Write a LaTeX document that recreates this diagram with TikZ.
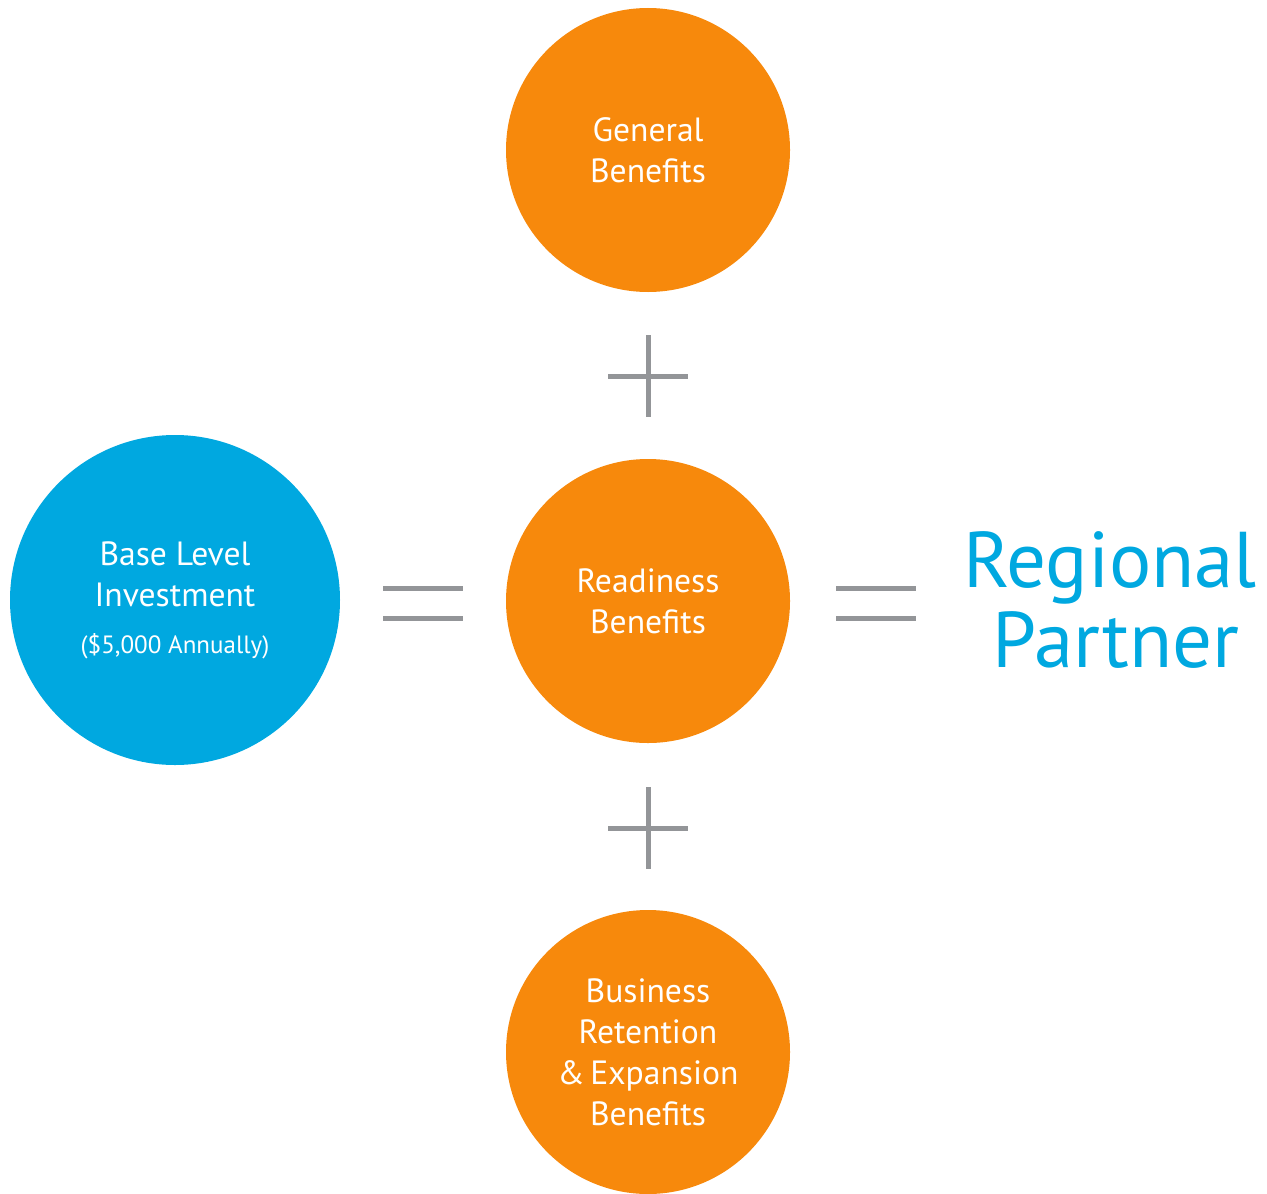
\documentclass[tikz,border=0pt]{standalone}
\usepackage{fontspec}
\setmainfont{PT Sans}
\definecolor{orng}{HTML}{F7890C}
\definecolor{blu}{HTML}{00A8E0}
\definecolor{gry}{HTML}{939598}
\begin{document}
\begin{tikzpicture}[x=0.5pt,y=-0.5pt,
  orb/.style={circle,fill=orng,draw=none,minimum size=142pt,inner sep=0pt,text=white,align=center,font=\fontsize{16.8}{20.5}\selectfont},
  bluorb/.style={circle,fill=blu,draw=none,minimum size=165pt,inner sep=0pt,text=white,align=center,font=\fontsize{16.8}{20.5}\selectfont},
  op/.style={gry,line width=2.5pt}]
\useasboundingbox (0,0) rectangle (1267,1193);
\node[orb] (gen) at (648,150) {General\\Benefits};
\node[orb] (rdy) at (648,601) {Readiness\\Benefits};
\node[orb] (bre) at (648,1052) {Business\\Retention\\\&\,Expansion\\Benefits};
\node[bluorb] (base) at (175,600) {Base Level\\Investment\\[3pt]{\fontsize{12.5}{14}\selectfont(\$5,000 Annually)}};
\node[text=blu,align=center,font=\fontsize{39.5}{40}\selectfont] (rp) at (1110,600) {Regional\\\hspace*{6pt}Partner};
% plus signs
\coordinate (p1) at (648,376);
\coordinate (p2) at (648,828);
\draw[op] ([xshift=-20pt]p1) -- ([xshift=20pt]p1);
\draw[op] ([yshift=20.5pt]p1) -- ([yshift=-20.5pt]p1);
\draw[op] ([xshift=-20pt]p2) -- ([xshift=20pt]p2);
\draw[op] ([yshift=20.5pt]p2) -- ([yshift=-20.5pt]p2);
% equals signs
\coordinate (e1) at (423,603);
\coordinate (e2) at (876,603);
\foreach \e in {e1,e2}{
  \draw[op] ([xshift=-20pt,yshift=7.5pt]\e) -- ([xshift=20pt,yshift=7.5pt]\e);
  \draw[op] ([xshift=-20pt,yshift=-7.5pt]\e) -- ([xshift=20pt,yshift=-7.5pt]\e);
}
\end{tikzpicture}
\end{document}
